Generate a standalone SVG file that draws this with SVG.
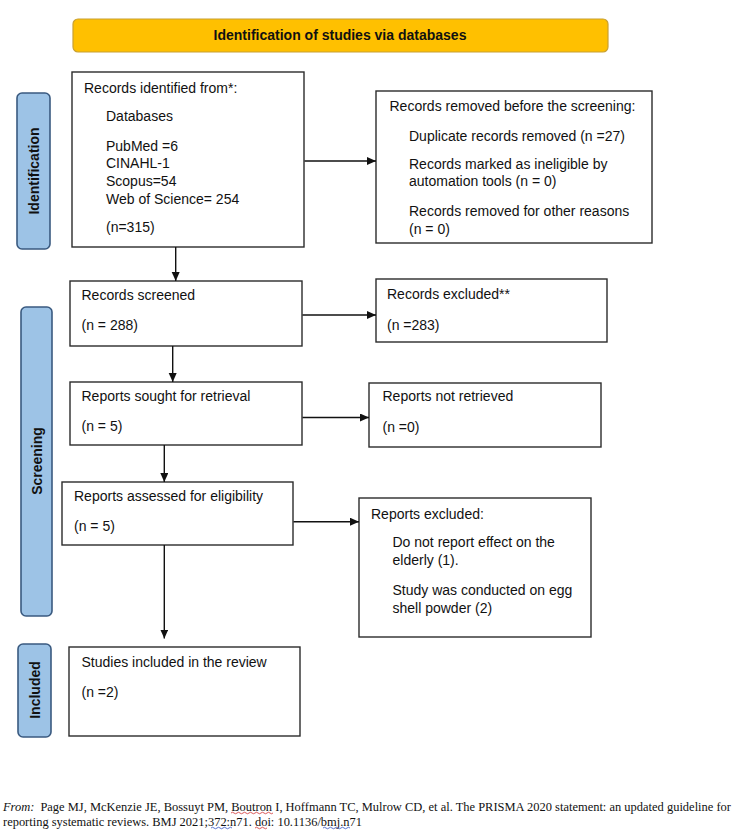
<svg xmlns="http://www.w3.org/2000/svg" width="739" height="839" viewBox="0 0 739 839">
<style>
.box{fill:#fff;stroke:#2b2b2b;stroke-width:1.4}
.bar{fill:#9dc3e6;stroke:#3a5a80;stroke-width:1.6}
.t{font-family:"Liberation Sans",Arial,sans-serif;font-size:14px;fill:#111}
.tb{font-family:"Liberation Sans",Arial,sans-serif;font-size:14px;font-weight:bold;fill:#111}
.vt{font-family:"Liberation Sans",Arial,sans-serif;font-size:14px;font-weight:bold;fill:#111;text-anchor:middle}
.ln{stroke:#111;stroke-width:1.4;fill:none}
.ft{font-family:"Liberation Serif","Times New Roman",serif;font-size:12.5px;fill:#111}
</style>
<defs>
<marker id="ah" markerUnits="userSpaceOnUse" markerWidth="10" markerHeight="9" refX="9" refY="4" orient="auto">
<path d="M0,0 L9,4 L0,8 z" fill="#111"/>
</marker>
</defs>
<rect width="739" height="839" fill="#fff"/>

<g id="banner">
<rect x="73" y="19" width="535" height="33" rx="5" fill="#ffc000" stroke="#c8a032" stroke-width="1.2"/>
<text class="tb" x="340" y="40" text-anchor="middle">Identification of studies via databases</text>
</g>

<g id="bar-identification">
<rect class="bar" x="17" y="93" width="33" height="156" rx="5"/>
<text class="vt" transform="translate(33.5,171) rotate(-90)" x="0" y="5">Identification</text>
</g>
<g id="bar-screening">
<rect class="bar" x="21" y="307" width="31" height="309" rx="5"/>
<text class="vt" transform="translate(36.5,461) rotate(-90)" x="0" y="5">Screening</text>
</g>
<g id="bar-included">
<rect class="bar" x="18" y="644" width="33" height="93" rx="5"/>
<text class="vt" transform="translate(34.5,690) rotate(-90)" x="0" y="5">Included</text>
</g>

<g id="records-identified">
<rect class="box" x="72" y="72" width="232" height="175"/>
<text class="t" x="84" y="93">Records identified from*:</text>
<text class="t" x="106" y="121">Databases</text>
<text class="t" x="106" y="151">PubMed =6</text>
<text class="t" x="106" y="168">CINAHL-1</text>
<text class="t" x="106" y="186">Scopus=54</text>
<text class="t" x="106" y="203.5">Web of Science= 254</text>
<text class="t" x="106" y="232">(n=315)</text>
</g>

<g id="records-removed">
<rect class="box" x="376" y="91" width="276" height="152"/>
<text class="t" x="389.5" y="110.5">Records removed before the screening:</text>
<text class="t" x="409" y="140.5">Duplicate records removed (n =27)</text>
<text class="t" x="409" y="168.5">Records marked as ineligible by</text>
<text class="t" x="409" y="186">automation tools (n = 0)</text>
<text class="t" x="409" y="215.5">Records removed for other reasons</text>
<text class="t" x="409" y="233.5">(n = 0)</text>
</g>

<g id="records-screened">
<rect class="box" x="70" y="281" width="232" height="65"/>
<text class="t" x="81.5" y="299.5">Records screened</text>
<text class="t" x="81.5" y="330">(n = 288)</text>
</g>

<g id="records-excluded">
<rect class="box" x="376" y="279" width="231" height="63"/>
<text class="t" x="387" y="298.5">Records excluded**</text>
<text class="t" x="387" y="329.5">(n =283)</text>
</g>

<g id="reports-sought">
<rect class="box" x="70" y="382" width="232" height="63"/>
<text class="t" x="81.5" y="401">Reports sought for retrieval</text>
<text class="t" x="81.5" y="431">(n = 5)</text>
</g>

<g id="reports-not-retrieved">
<rect class="box" x="369" y="383" width="232" height="64"/>
<text class="t" x="382.5" y="401">Reports not retrieved</text>
<text class="t" x="382.5" y="431.5">(n =0)</text>
</g>

<g id="reports-assessed">
<rect class="box" x="62" y="482" width="231" height="63"/>
<text class="t" x="74" y="501">Reports assessed for eligibility</text>
<text class="t" x="74" y="531">(n = 5)</text>
</g>

<g id="reports-excluded">
<rect class="box" x="359" y="498" width="232" height="139"/>
<text class="t" x="371" y="518.5">Reports excluded:</text>
<text class="t" x="392.5" y="547">Do not report effect on the</text>
<text class="t" x="392.5" y="565">elderly (1).</text>
<text class="t" x="392.5" y="595">Study was conducted on egg</text>
<text class="t" x="392.5" y="613">shell powder (2)</text>
</g>

<g id="studies-included">
<rect class="box" x="69" y="647" width="231" height="89"/>
<text class="t" x="81.5" y="667">Studies included in the review</text>
<text class="t" x="81.5" y="697">(n =2)</text>
</g>

<g id="connectors">
<line class="ln" x1="304.5" y1="161" x2="376" y2="161" marker-end="url(#ah)"/>
<line class="ln" x1="302.5" y1="315" x2="376" y2="315" marker-end="url(#ah)"/>
<line class="ln" x1="302.5" y1="417.5" x2="369" y2="417.5" marker-end="url(#ah)"/>
<line class="ln" x1="293.5" y1="521.7" x2="359" y2="521.7" marker-end="url(#ah)"/>
<line class="ln" x1="175.7" y1="247" x2="175.7" y2="281" marker-end="url(#ah)"/>
<line class="ln" x1="172.7" y1="346" x2="172.7" y2="382" marker-end="url(#ah)"/>
<line class="ln" x1="164.3" y1="445" x2="164.3" y2="482" marker-end="url(#ah)"/>
<line class="ln" x1="164.3" y1="545" x2="164.3" y2="638.5" marker-end="url(#ah)"/>
</g>

<g id="footer">
<text class="ft" x="3" y="810.5" textLength="728" lengthAdjust="spacingAndGlyphs"><tspan font-style="italic">From:</tspan><tspan dx="6">Page MJ, McKenzie JE, Bossuyt PM, Boutron I, Hoffmann TC, Mulrow CD, et al. The PRISMA 2020 statement: an updated guideline for</tspan></text>
<text class="ft" x="3" y="825.5" textLength="359" lengthAdjust="spacingAndGlyphs">reporting systematic reviews. BMJ 2021;372:n71. doi: 10.1136/bmj.n71</text>
<path d="M231,813 q1.5,-1.5 3,0 t3,0 t3,0 t3,0 t3,0 t3,0 t3,0 t3,0 t3,0 t3,0 t3,0 t3,0 t3,0 t3,0" fill="none" stroke="#d03030" stroke-width="0.8"/>
<path d="M211,828 q1.5,-1.5 3,0 t3,0 t3,0 t3,0 t3,0 t3,0 t3,0" fill="none" stroke="#3050c0" stroke-width="0.8"/>
<path d="M255,828 q1.5,-1.5 3,0 t3,0 t3,0 t3,0" fill="none" stroke="#d03030" stroke-width="0.8"/>
<path d="M323,828 q1.5,-1.5 3,0 t3,0 t3,0 t3,0 t3,0 t3,0 t3,0 t3,0 t3,0" fill="none" stroke="#3050c0" stroke-width="0.8"/>
</g>
</svg>
